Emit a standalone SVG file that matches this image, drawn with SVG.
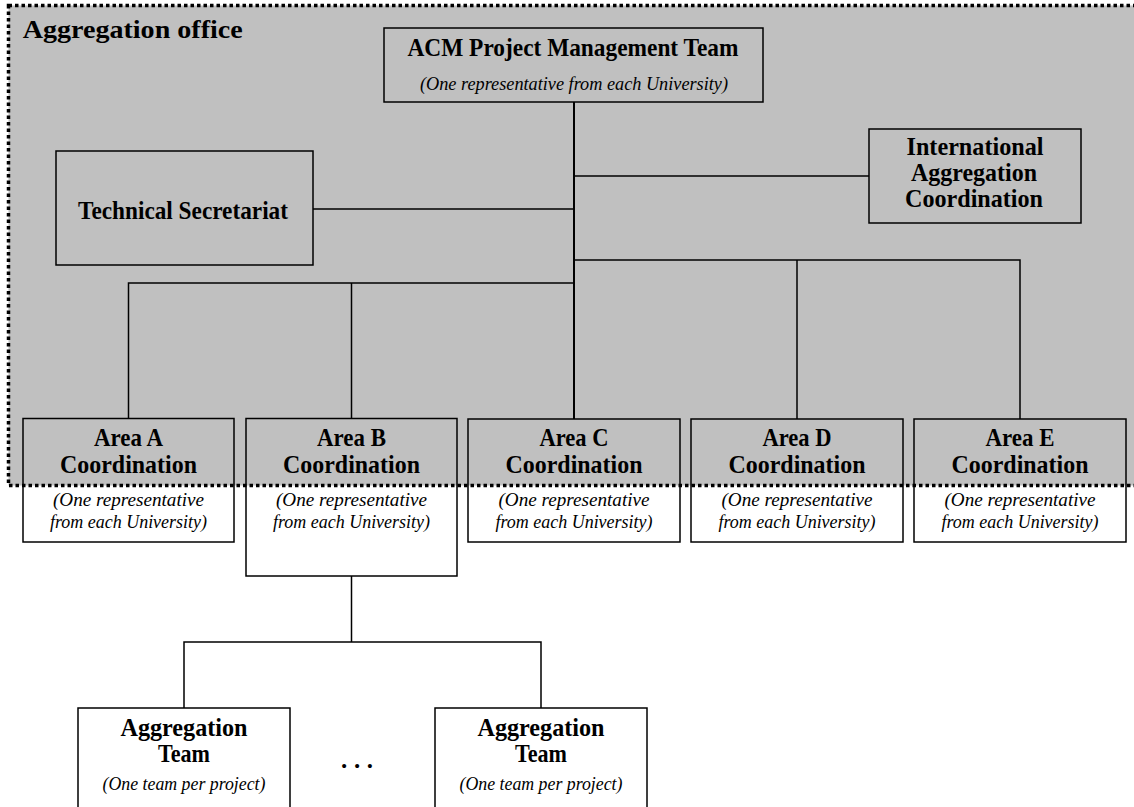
<svg xmlns="http://www.w3.org/2000/svg" width="1134" height="807" viewBox="0 0 1134 807">
<style>
.box{fill:none;stroke:#000;stroke-width:1.5}
.ln{fill:none;stroke:#000;stroke-width:1.5}
.b{font-family:"Liberation Serif",serif;font-weight:bold;font-size:25px;fill:#000;text-anchor:middle}
.i{font-family:"Liberation Serif",serif;font-style:italic;font-size:18px;fill:#000;text-anchor:middle}
</style>
<rect width="1134" height="807" fill="#fff"/>
<g id="office">
<rect x="8.5" y="5.5" width="1140" height="480" fill="#c0c0c0" stroke="#000" stroke-width="3.5" stroke-dasharray="3.5 3"/>
<text x="22.7" y="38" font-family="Liberation Serif, serif" font-weight="bold" font-size="25" textLength="220" lengthAdjust="spacingAndGlyphs">Aggregation office</text>
</g>
<g id="connectors">
<path class="ln" d="M574 102V419" style="stroke-width:2"/>
<path class="ln" d="M313 209H574M574 176H869"/>
<path class="ln" d="M128.5 418.5V283H574M351.5 283V418.5"/>
<path class="ln" d="M574 260H1020V419M797 260V419"/>
<path class="ln" d="M351.5 576V642M184 708V642H541V708"/>
</g>
<g id="acm">
<rect class="box" x="384" y="28" width="379" height="74"/>
<text class="b" x="573" y="56" textLength="331" lengthAdjust="spacingAndGlyphs">ACM Project Management Team</text>
<text class="i" x="574" y="90" textLength="308" lengthAdjust="spacingAndGlyphs">(One representative  from each University)</text>
</g>
<g id="tech-secretariat">
<rect class="box" x="56" y="151" width="257" height="114"/>
<text class="b" x="183" y="219" textLength="210" lengthAdjust="spacingAndGlyphs">Technical Secretariat</text>
</g>
<g id="international">
<rect class="box" x="869" y="129" width="212" height="94"/>
<text class="b" x="975" y="155" textLength="137" lengthAdjust="spacingAndGlyphs">International</text>
<text class="b" x="974" y="181" textLength="126" lengthAdjust="spacingAndGlyphs">Aggregation</text>
<text class="b" x="974" y="207" textLength="138" lengthAdjust="spacingAndGlyphs">Coordination</text>
</g>
<g id="area-a">
<rect class="box" x="23" y="418.5" width="211" height="123.5"/>
<text class="b" x="128.5" y="446" textLength="69" lengthAdjust="spacingAndGlyphs">Area A</text>
<text class="b" x="128.5" y="473" textLength="137" lengthAdjust="spacingAndGlyphs">Coordination</text>
<text class="i" x="128.5" y="506" textLength="151" lengthAdjust="spacingAndGlyphs">(One representative</text>
<text class="i" x="128.5" y="528" textLength="157" lengthAdjust="spacingAndGlyphs">from each University)</text>
</g>
<g id="area-b">
<rect class="box" x="246" y="418.5" width="211" height="157.5"/>
<text class="b" x="351.5" y="446" textLength="69" lengthAdjust="spacingAndGlyphs">Area B</text>
<text class="b" x="351.5" y="473" textLength="137" lengthAdjust="spacingAndGlyphs">Coordination</text>
<text class="i" x="351.5" y="506" textLength="151" lengthAdjust="spacingAndGlyphs">(One representative</text>
<text class="i" x="351.5" y="528" textLength="157" lengthAdjust="spacingAndGlyphs">from each University)</text>
</g>
<g id="area-c">
<rect class="box" x="468" y="419" width="212" height="123"/>
<text class="b" x="574" y="446" textLength="69" lengthAdjust="spacingAndGlyphs">Area C</text>
<text class="b" x="574" y="473" textLength="137" lengthAdjust="spacingAndGlyphs">Coordination</text>
<text class="i" x="574" y="506" textLength="151" lengthAdjust="spacingAndGlyphs">(One representative</text>
<text class="i" x="574" y="528" textLength="157" lengthAdjust="spacingAndGlyphs">from each University)</text>
</g>
<g id="area-d">
<rect class="box" x="691" y="419" width="212" height="123"/>
<text class="b" x="797" y="446" textLength="69" lengthAdjust="spacingAndGlyphs">Area D</text>
<text class="b" x="797" y="473" textLength="137" lengthAdjust="spacingAndGlyphs">Coordination</text>
<text class="i" x="797" y="506" textLength="151" lengthAdjust="spacingAndGlyphs">(One representative</text>
<text class="i" x="797" y="528" textLength="157" lengthAdjust="spacingAndGlyphs">from each University)</text>
</g>
<g id="area-e">
<rect class="box" x="914" y="419" width="212" height="123"/>
<text class="b" x="1020" y="446" textLength="69" lengthAdjust="spacingAndGlyphs">Area E</text>
<text class="b" x="1020" y="473" textLength="137" lengthAdjust="spacingAndGlyphs">Coordination</text>
<text class="i" x="1020" y="506" textLength="151" lengthAdjust="spacingAndGlyphs">(One representative</text>
<text class="i" x="1020" y="528" textLength="157" lengthAdjust="spacingAndGlyphs">from each University)</text>
</g>
<g id="team-1">
<rect class="box" x="78" y="708" width="212" height="120"/>
<text class="b" x="184" y="736" textLength="127" lengthAdjust="spacingAndGlyphs">Aggregation</text>
<text class="b" x="184" y="762" textLength="52" lengthAdjust="spacingAndGlyphs">Team</text>
<text class="i" x="184" y="790" textLength="163" lengthAdjust="spacingAndGlyphs">(One team per project)</text>
</g>
<g id="ellipsis">
<text class="b" x="357" y="768" textLength="32" lengthAdjust="spacing">...</text>
</g>
<g id="team-2">
<rect class="box" x="435" y="708" width="212" height="120"/>
<text class="b" x="541" y="736" textLength="127" lengthAdjust="spacingAndGlyphs">Aggregation</text>
<text class="b" x="541" y="762" textLength="52" lengthAdjust="spacingAndGlyphs">Team</text>
<text class="i" x="541" y="790" textLength="163" lengthAdjust="spacingAndGlyphs">(One team per project)</text>
</g>
</svg>
